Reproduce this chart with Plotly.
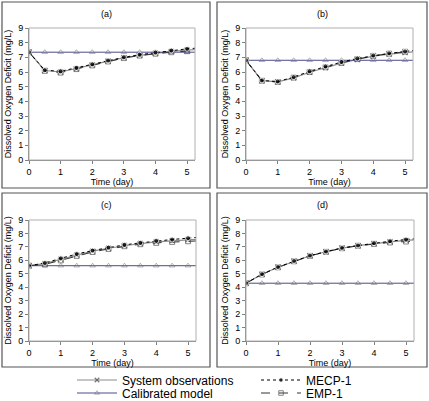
import plotly.graph_objects as go

W, H = 429, 401

t = [0, 0.5, 1, 1.5, 2, 2.5, 3, 3.5, 4, 4.5, 5, 5.25]
panel_labels = ["(a)", "(b)", "(c)", "(d)"]

a_obs = [7.35, 6.10, 6.00, 6.22, 6.48, 6.74, 6.97, 7.14, 7.28, 7.40, 7.50, 7.53]
a_mecp = [7.35, 6.12, 6.05, 6.28, 6.52, 6.78, 7.00, 7.18, 7.33, 7.47, 7.58, 7.62]
a_emp = [7.35, 6.08, 5.96, 6.20, 6.45, 6.72, 6.95, 7.12, 7.25, 7.35, 7.42, 7.45]
a_cal = 7.35

b_obs = [6.80, 5.41, 5.33, 5.60, 5.98, 6.30, 6.60, 6.85, 7.08, 7.22, 7.33, 7.37]
b_mecp = [6.80, 5.42, 5.35, 5.65, 6.05, 6.38, 6.68, 6.92, 7.12, 7.27, 7.40, 7.47]
b_emp = [6.80, 5.40, 5.32, 5.62, 6.00, 6.32, 6.62, 6.88, 7.10, 7.25, 7.38, 7.44]
b_cal = 6.8

c_obs = [5.60, 5.75, 6.08, 6.40, 6.68, 6.90, 7.10, 7.25, 7.38, 7.46, 7.53, 7.56]
c_mecp = [5.60, 5.80, 6.15, 6.47, 6.73, 6.95, 7.15, 7.30, 7.45, 7.55, 7.65, 7.70]
c_emp = [5.60, 5.70, 6.00, 6.33, 6.62, 6.85, 7.05, 7.20, 7.30, 7.37, 7.42, 7.44]
c_cal = 5.6

d_obs = [4.30, 4.96, 5.49, 5.94, 6.34, 6.64, 6.91, 7.09, 7.25, 7.38, 7.48, 7.52]
d_mecp = [4.30, 4.97, 5.50, 5.95, 6.35, 6.65, 6.92, 7.10, 7.27, 7.42, 7.55, 7.60]
d_emp = [4.30, 4.95, 5.48, 5.93, 6.33, 6.63, 6.90, 7.08, 7.22, 7.33, 7.40, 7.42]
d_cal = 4.3

panels = [
    (a_obs, a_mecp, a_emp, a_cal),
    (b_obs, b_mecp, b_emp, b_cal),
    (c_obs, c_mecp, c_emp, c_cal),
    (d_obs, d_mecp, d_emp, d_cal),
]

FONT = "Liberation Sans, Arial, sans-serif"

# plot-area pixel boxes (left, right, top, bottom)
areas = [(29, 195, 28, 160), (246, 413, 28, 160),
         (29, 196, 220, 341), (246, 414, 220, 341)]
# outer panel frames
frames = [(2, 210, 2, 188), (217, 427, 2, 188),
          (2, 210, 193, 367), (217, 427, 193, 367)]

fig = go.Figure()
msz = [5] * (len(t) - 1) + [0]
tsz = [5] * (len(t) - 1) + [0]
for i, (obs, mecp, emp, cal) in enumerate(panels):
    xa = "x" if i == 0 else f"x{i+1}"
    ya = "y" if i == 0 else f"y{i+1}"
    show = (i == 0)
    fig.add_trace(go.Scatter(x=t, y=obs, mode="lines+markers", name="System observations",
                             line=dict(color="#8c8c8c", width=1.2),
                             marker=dict(symbol="x-thin", size=msz, line=dict(color="#444444", width=1.2)),
                             xaxis=xa, yaxis=ya, showlegend=show, legend="legend"))
    fig.add_trace(go.Scatter(x=t, y=[cal] * len(t), mode="lines+markers", name="Calibrated model",
                             line=dict(color="#4a4a8c", width=1),
                             marker=dict(symbol="triangle-up-open", size=tsz,
                                         color="#777777", line=dict(width=0.8)),
                             xaxis=xa, yaxis=ya, showlegend=show, legend="legend2"))
    fig.add_trace(go.Scatter(x=t, y=emp, mode="lines+markers", name="EMP-1",
                             line=dict(color="#333333", width=1, dash="dash"),
                             marker=dict(symbol="square-open", size=msz, color="#555555", line=dict(width=1)),
                             xaxis=xa, yaxis=ya, showlegend=show, legend="legend4"))
    fig.add_trace(go.Scatter(x=t, y=mecp, mode="lines+markers", name="MECP-1",
                             line=dict(color="#000000", width=1, dash="dot"),
                             marker=dict(symbol="circle", size=msz, color="#000000"),
                             xaxis=xa, yaxis=ya, showlegend=show, legend="legend3"))

layout = dict(width=W, height=H, margin=dict(l=0, r=0, t=0, b=0, autoexpand=False),
              paper_bgcolor="white", plot_bgcolor="white",
              font=dict(family=FONT, size=9, color="#000000"))
shapes = []
annotations = []
for i, ((l, r, tp, bt), (fl, fr, ft, fb)) in enumerate(zip(areas, frames)):
    sfx = "" if i == 0 else str(i + 1)
    layout["xaxis" + sfx] = dict(domain=[l / W, r / W], anchor="y" + sfx, range=[0, 5.25],
                                 tickvals=[0, 1, 2, 3, 4, 5], ticks="outside", ticklen=3,
                                 showgrid=False, zeroline=False, showline=True,
                                 linecolor="#808080", linewidth=1, tickcolor="#808080",
                                 tickfont=dict(size=9), title=dict(text="Time (day)", font=dict(size=9), standoff=1))
    layout["yaxis" + sfx] = dict(domain=[1 - bt / H, 1 - tp / H], anchor="x" + sfx, range=[0, 9],
                                 tickvals=list(range(10)), ticks="outside", ticklen=3,
                                 showgrid=False, zeroline=False, showline=True,
                                 linecolor="#808080", linewidth=1, tickcolor="#808080",
                                 tickfont=dict(size=9),
                                 title=dict(text="Dissolved Oxygen Deficit (mg/L)", font=dict(size=9), standoff=5))
    shapes.append(dict(type="rect", xref="x" + sfx + " domain", yref="y" + sfx + " domain",
                       x0=0, x1=1, y0=0, y1=1, line=dict(color="#b0b0b0", width=1)))
    shapes.append(dict(type="rect", xref="paper", yref="paper",
                       x0=fl / W, x1=fr / W, y0=1 - fb / H, y1=1 - ft / H,
                       line=dict(color="#555555", width=1.2)))
    annotations.append(dict(text=panel_labels[i], xref="paper", yref="paper",
                            x=(fl + fr) / 2 / W, y=1 - (ft + 12) / H, showarrow=False,
                            font=dict(size=9), xanchor="center", yanchor="middle"))

layout["shapes"] = shapes
layout["annotations"] = annotations
leg_common = dict(xanchor="left", yanchor="middle", font=dict(size=12, family=FONT),
                  itemwidth=40, bgcolor="rgba(0,0,0,0)", borderwidth=0)
layout["legend"] = dict(x=72 / W, y=1 - 380 / H, **leg_common)
layout["legend2"] = dict(x=72 / W, y=1 - 393 / H, **leg_common)
layout["legend3"] = dict(x=256 / W, y=1 - 380 / H, **leg_common)
layout["legend4"] = dict(x=256 / W, y=1 - 393 / H, **leg_common)
fig.update_layout(**layout)
fig.write_html("out.html")
